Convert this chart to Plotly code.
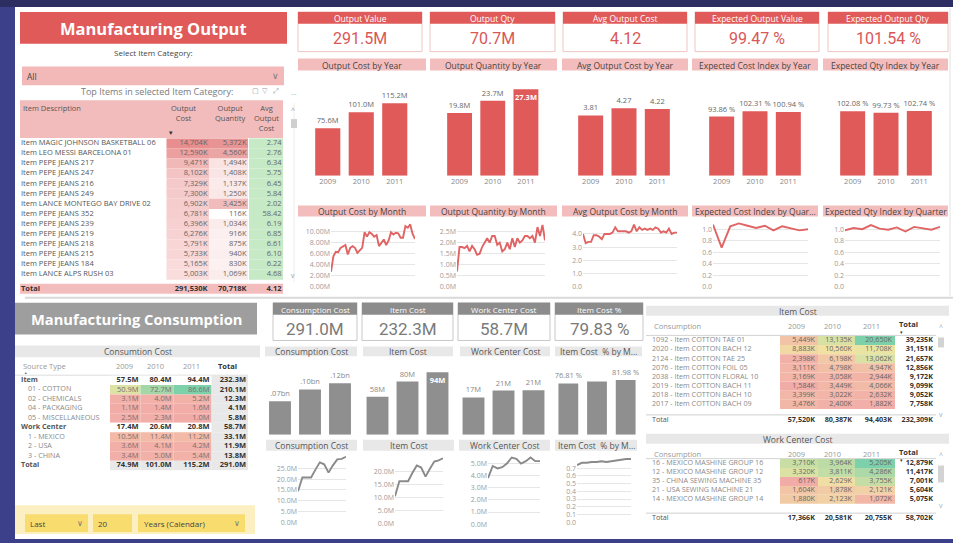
import plotly.graph_objects as go

# ---------------- data ----------------
years = ["2009", "2010", "2011"]
month_names = ["Jan", "Feb", "Mar", "Apr", "May", "Jun", "Jul", "Aug", "Sep", "Oct", "Nov", "Dec"]
months = [f"{m} {y}" for y in years for m in month_names]
quarters = [f"Q{q} {y}" for y in years for q in range(1, 5)]

top_kpi_titles = ["Output Value", "Output Qty", "Avg Output Cost", "Expected Output Value", "Expected Output Qty"]
top_kpi_values = ["291.5M", "70.7M", "4.12", "99.47 %", "101.54 %"]
year_chart_titles = ["Output Cost by Year", "Output Quantity by Year", "Avg Output Cost by Year",
                     "Expected Cost Index by Year", "Expected Qty Index by Year"]
trend_chart_titles = ["Output Cost by Month", "Output Quantity by Month", "Avg Output Cost by Month",
                      "Expected Cost Index by Quar...", "Expected Qty Index by Quarter"]

output_cost_year = [75.6, 101.0, 115.2]      # M
output_qty_year = [19.8, 23.7, 27.3]         # M
avg_cost_year = [3.81, 4.27, 4.22]
cost_index_year = [93.86, 102.31, 100.94]    # %
qty_index_year = [102.08, 99.73, 102.74]     # %

output_cost_month = [2.7, 5.5, 6.3, 6.2, 7.0, 7.2, 7.5, 5.8, 7.0, 7.3, 7.0, 6.1,
                     6.5, 7.0, 9.8, 9.0, 9.8, 9.5, 9.0, 9.3, 7.3, 7.8, 8.5, 7.5,
                     8.3, 9.8, 9.4, 9.7, 9.6, 8.8, 8.8, 10.9, 10.6, 11.2, 9.5, 8.6]
output_qty_month = [0.7, 1.8, 1.8, 1.75, 1.85, 1.6, 1.85, 1.7, 1.45, 1.5, 1.8, 2.0,
                    2.2, 2.0, 2.3, 2.3, 1.9, 2.0, 1.6, 1.7, 2.0, 1.7, 2.2, 1.8,
                    2.2, 2.0, 2.1, 2.3, 2.3, 2.2, 2.3, 2.0, 2.7, 2.3, 2.8, 2.1]
avg_cost_month = [4.0, 3.3, 3.4, 3.4, 3.9, 3.9, 3.8, 3.6, 4.0, 4.0, 4.0, 4.1,
                  4.5, 4.2, 4.2, 4.2, 4.2, 4.1, 4.2, 4.7, 4.2, 4.5, 4.3, 4.4,
                  4.3, 4.4, 4.3, 4.5, 4.4, 4.1, 4.2, 4.1, 4.4, 4.0, 4.1, 4.1]
cost_index_quarter = [1.08, 0.68, 1.05, 1.10, 1.06, 1.02, 1.06, 0.98, 1.05, 1.02, 0.98, 1.00]
qty_index_quarter = [0.98, 1.02, 1.00, 1.07, 1.01, 0.99, 1.03, 0.96, 1.04, 1.02, 0.99, 1.04]

item_names = ["Item MAGIC JOHNSON BASKETBALL 06", "Item LEO MESSI BARCELONA 01", "Item PEPE JEANS 217",
              "Item PEPE JEANS 247", "Item PEPE JEANS 216", "Item PEPE JEANS 249",
              "Item LANCE MONTEGO BAY DRIVE 02", "Item PEPE JEANS 352", "Item PEPE JEANS 239",
              "Item PEPE JEANS 219", "Item PEPE JEANS 218", "Item PEPE JEANS 215",
              "Item PEPE JEANS 184", "Item LANCE ALPS RUSH 03"]
item_output_cost = [14704, 12590, 9471, 8102, 7329, 7300, 6902, 6781, 6396, 6276, 5791, 5733, 5165, 5003]
item_output_qty = [5372, 4560, 1494, 1408, 1137, 1250, 3425, 116, 1034, 916, 875, 940, 830, 1069]
item_avg_cost = [2.74, 2.76, 6.34, 5.75, 6.45, 5.84, 2.02, 58.42, 6.19, 6.85, 6.61, 6.10, 6.22, 4.68]
item_totals = [291530, 70718, 4.12]

cons_kpi_titles = ["Consumption Cost", "Item Cost", "Work Center Cost", "Item Cost %"]
cons_kpi_values = ["291.0M", "232.3M", "58.7M", "79.83 %"]
cons_chart_titles = ["Consumption Cost", "Item Cost", "Work Center Cost", "Item Cost  % by M..."]
consumption_year = [74.9, 101.0, 115.2]
item_cost_year = [57.5, 80.4, 94.4]
work_center_year = [17.4, 20.6, 20.8]
item_cost_pct_year = [76.81, 79.60, 81.98]
consumption_labels = [".07bn", ".10bn", ".12bn"]
item_cost_labels = ["58M", "80M", "94M"]
work_center_labels = ["17M", "21M", "21M"]
item_cost_pct_labels = ["76.81 %", "", "81.98 %"]

consumption_quarter = [14.4, 20.8, 20.8, 20.8, 24.5, 27.9, 27.0, 23.1, 26.5, 29.3, 29.5, 30.5]
item_cost_quarter = [10.4, 16.2, 16.2, 16.2, 19.5, 22.3, 21.5, 18.0, 21.0, 23.8, 24.3, 25.1]
work_center_quarter = [3.8, 4.8, 4.6, 4.7, 5.0, 5.5, 5.4, 5.0, 5.2, 5.5, 5.2, 5.2]
item_cost_pct_quarter = [0.74, 0.77, 0.77, 0.78, 0.78, 0.79, 0.78, 0.79, 0.80, 0.81, 0.82, 0.82]

source_types = ["Item", "01 - COTTON", "02 - CHEMICALS", "04 - PACKAGING", "05 - MISCELLANEOUS",
                "Work Center", "1 - MEXICO", "2 - USA", "3 - CHINA"]
source_level = [0, 1, 1, 1, 1, 0, 1, 1, 1]
source_2009 = [57.5, 50.9, 3.1, 1.1, 2.5, 17.4, 10.5, 3.6, 3.4]
source_2010 = [80.4, 72.7, 4.0, 1.4, 2.3, 20.6, 11.4, 4.1, 5.0]
source_2011 = [94.4, 86.6, 5.2, 1.6, 1.0, 20.8, 11.2, 4.2, 5.4]
source_total = [232.3, 210.1, 12.3, 4.1, 5.8, 58.7, 33.1, 11.9, 13.8]
source_grand = [74.9, 101.0, 115.2, 291.0]

item_cost_rows = ["1092 - Item COTTON TAE 01", "2020 - Item COTTON BACH 12", "2124 - Item COTTON TAE 25",
                  "2076 - Item COTTON FOIL 05", "2038 - Item COTTON FLORAL 10", "2019 - Item COTTON BACH 11",
                  "2018 - Item COTTON BACH 10", "2017 - Item COTTON BACH 09"]
item_cost_2009 = [5449, 8883, 2398, 3111, 3169, 1584, 3399, 3476]
item_cost_2010 = [13135, 10560, 6198, 4798, 3058, 3449, 3022, 2400]
item_cost_2011 = [20650, 11708, 13062, 4947, 2944, 4066, 2632, 1882]
item_cost_total = [39235, 31151, 21657, 12856, 9172, 9099, 9052, 7758]
item_cost_grand = [57520, 80387, 94403, 232309]

wc_rows = ["16 - MEXICO MASHINE GROUP 16", "12 - MEXICO MASHINE GROUP 12", "35 - CHINA SEWING MACHINE 35",
           "21 - USA SEWING MACHINE 21", "14 - MEXICO MASHINE GROUP 14"]
wc_2009 = [3710, 3320, 617, 1604, 1880]
wc_2010 = [3964, 3811, 2629, 1878, 2123]
wc_2011 = [5205, 4286, 3755, 2121, 1072]
wc_total = [12879, 11417, 7001, 5604, 5075]
wc_grand = [17366, 20581, 20755, 58702]

# ---------------- styling ----------------
W, H = 953, 543
FONT = "Open Sans, Noto Sans, sans-serif"
NUM_FONT = "Roboto, Open Sans, sans-serif"
RED = "#e05a5a"
RED_LINE = "#e06464"
PINK = "#f4bdbd"
GRAY = "#8f8f8f"
GRAY_BAND = "#e8e8e8"
DIV_LOW, DIV_MID, DIV_HIGH = "#f2aca8", "#f1e5a3", "#7dd1aa"

fig = go.Figure()
shapes, annotations = [], []
axis_no = [0]


def fx(x):
    return x / W


def fy(y):
    return 1 - y / H


def box(x0, y0, x1, y1, fill, border=None, width=1):
    shapes.append(dict(type="rect", xref="paper", yref="paper", layer="below",
                       x0=fx(x0), x1=fx(x1), y0=fy(y1), y1=fy(y0), fillcolor=fill,
                       line=dict(color=border or fill, width=width if border else 0)))


def seg(x0, y0, x1, y1, color, width=1):
    shapes.append(dict(type="line", xref="paper", yref="paper", layer="below",
                       x0=fx(x0), x1=fx(x1), y0=fy(y0), y1=fy(y1), line=dict(color=color, width=width)))


def label(x, y, s, size=8, color="#555", anchor="center", family=FONT, valign="middle"):
    annotations.append(dict(xref="paper", yref="paper", x=fx(x), y=fy(y), text=s, showarrow=False,
                            xanchor=anchor, yanchor=valign, borderpad=0,
                            font=dict(size=size, color=color, family=family)))


def new_axes(xdom, ydom, xkw, ykw):
    axis_no[0] += 1
    s = "" if axis_no[0] == 1 else str(axis_no[0])
    fig.update_layout({
        "xaxis" + s: dict(domain=[fx(xdom[0]), fx(xdom[1])], anchor="y" + s, fixedrange=True, **xkw),
        "yaxis" + s: dict(domain=[fy(ydom[1]), fy(ydom[0])], anchor="x" + s, fixedrange=True, **ykw),
    })
    return "x" + s, "y" + s


def hexmix(c1, c2, t):
    t = max(0.0, min(1.0, t))
    a = [int(c1[i:i + 2], 16) for i in (1, 3, 5)]
    b = [int(c2[i:i + 2], 16) for i in (1, 3, 5)]
    return "#" + "".join(f"{round(a[k] + (b[k] - a[k]) * t):02x}" for k in range(3))


def diverging(v, lo, hi):
    mid = (lo + hi) / 2
    if v <= mid:
        return hexmix(DIV_LOW, DIV_MID, (v - lo) / (mid - lo))
    return hexmix(DIV_MID, DIV_HIGH, (v - mid) / (hi - mid))


def band(x0, x1, y0, y1, title, fill, size=8.5, color="#444"):
    box(x0, y0, x1, y1, fill)
    label((x0 + x1) / 2, (y0 + y1) / 2 + 0.5, title, size, color)


def kpi(x0, x1, y0, yh, y1, title, value, head, border, vcolor, tsize, vsize):
    box(x0, y0, x1, y1, "white", border)
    box(x0, y0, x1, yh, head)
    label((x0 + x1) / 2, (y0 + yh) / 2 + 0.5, title, tsize, "white")
    label((x0 + x1) / 2, (yh + y1) / 2 + 1, value, vsize, vcolor, family=NUM_FONT)


def bar_chart(xdom, ydom, vals, ymax, color, labels, positions, label_colors, width, show_x):
    xa, ya = new_axes(xdom, ydom,
                      dict(type="category", showgrid=False, showline=False, ticks="",
                           showticklabels=show_x, tickfont=dict(size=7.5, color="#888", family=FONT)),
                      dict(range=[0, ymax], visible=False))
    fig.add_trace(go.Bar(x=years, y=vals, xaxis=xa, yaxis=ya, width=width,
                         marker=dict(color=color, line=dict(width=0)),
                         text=labels, textposition=positions, textangle=0, constraintext="none",
                         insidetextanchor="end", cliponaxis=False, hoverinfo="skip",
                         textfont=dict(size=7.5, color=label_colors, family=FONT)))


def line_chart(xdom, ydom, cats, vals, ymax, dtick, top_tick, fmt, suffix, color):
    ticks = [round(i * dtick, 4) for i in range(int(round(top_tick / dtick)) + 1)]
    xa, ya = new_axes(xdom, ydom,
                      dict(type="category", visible=False, range=[0, len(cats) - 1]),
                      dict(range=[0, ymax], tickmode="array", tickvals=ticks,
                           ticktext=[format(t, fmt) + suffix for t in ticks],
                           showgrid=True, gridcolor="#e6e6e6", gridwidth=1,
                           zeroline=False, showline=False, ticks="",
                           tickfont=dict(size=7, color="#9a9a9a", family=FONT)))
    fig.add_trace(go.Scatter(x=cats, y=vals, mode="lines", line=dict(color=color, width=1.9),
                             xaxis=xa, yaxis=ya, hoverinfo="skip", cliponaxis=False))


def cells(ax, ys, x0, x1, colors):
    fig.add_trace(go.Bar(orientation="h", y=ys, x=[x1 - x0] * len(ys), base=x0, width=1.0,
                         marker=dict(color=colors, line=dict(width=0)),
                         xaxis=ax[0], yaxis=ax[1], hoverinfo="skip"))


def cell_text(ax, ys, x, texts, pos, size, colors):
    fig.add_trace(go.Scatter(x=[x] * len(ys), y=ys, mode="text", text=texts, textposition=pos,
                             textfont=dict(size=size, color=colors, family=FONT),
                             xaxis=ax[0], yaxis=ax[1], hoverinfo="skip", cliponaxis=False))


def table_axes(xdom, top, bottom, row0, step):
    yr = [(bottom - row0) / step, (top - row0) / step]
    return new_axes(xdom, (top, bottom), dict(range=list(xdom), visible=False),
                    dict(range=yr, visible=False))


# ---------------- canvas ----------------
box(0, 0, W, 7, "#2c2e62")
box(15, 7, W, H, "white")
seg(25, 300, W, 300, "#d9d9d9", 2)
seg(950, 8, 950, 298, "#e2e2e2", 1)

# ---------------- top-left: output title, slicer, item table ----------------
box(20, 12, 287, 44, RED)
label(153.5, 28.5, "<b>Manufacturing Output</b>", 16.5, "white")
label(153, 53, "Select Item Category:", 8, "#444")
box(22, 67, 284, 86, "#f3b8b8")
label(26, 77, "All", 8.5, "#444", anchor="left")
label(275, 76, "∨", 9, "#777")
label(157, 92, "Top Items in selected Item Category:", 9, "#7a7a7a")
label(255, 91, "▢", 7, "#999")
label(265, 91, "▽", 7, "#999")
label(276, 91, "⤢", 7, "#999")
label(294, 95, "···", 7, "#999")

box(20, 101, 283, 139, "#f3bcbc")
label(22, 103, "Item Description", 7.5, "#555", anchor="left", valign="top")
label(170, 103, "Output<br>Cost", 7.5, "#555", anchor="left", valign="top")
label(214, 103, "Output<br>Quantity", 7.5, "#555", anchor="left", valign="top")
label(253, 103, "Avg<br>Output<br>Cost", 7.5, "#555", anchor="left", valign="top")
label(171, 133, "▾", 7, "#333")

# scrollbar of the item table
seg(294, 104, 294, 284, "#ececec", 1)
box(291, 120, 297, 129, "#cfcfcf")
label(293, 111, "^", 7, "#999")
label(293, 278, "v", 7, "#999")

n1 = len(item_names)
rows1 = list(range(n1))
total_y1 = n1 + 0.4
t1 = table_axes((20, 290), 139.2, 297, 144.3, 10.18)
cells(t1, [total_y1], 20, 283, [PINK])
c_lo, c_hi = min(item_output_cost), max(item_output_cost)
q_lo, q_hi = min(item_output_qty), max(item_output_qty)
cells(t1, rows1, 166.5, 209, [hexmix("#f9dcdc", "#e88e8e", (v - c_lo) / (c_hi - c_lo)) for v in item_output_cost])
cells(t1, rows1, 209, 248, [hexmix("#ffffff", "#e89494", (v - q_lo) / (q_hi - q_lo)) for v in item_output_qty])
cells(t1, rows1, 249, 283, ["#c6e9c6"] * n1)
ys1 = rows1 + [total_y1]
cell_text(t1, ys1, 21, item_names + ["<b>Total</b>"], "middle right", 7.5, ["#555"] * n1 + ["#333"])
cell_text(t1, ys1, 207.5, [f"{v:,}K" for v in item_output_cost] + [f"<b>{item_totals[0]:,}K</b>"],
          "middle left", 7.5, ["#666"] * n1 + ["#333"])
cell_text(t1, ys1, 246.5, [f"{v:,}K" for v in item_output_qty] + [f"<b>{item_totals[1]:,}K</b>"],
          "middle left", 7.5, ["#666"] * n1 + ["#333"])
cell_text(t1, ys1, 281.5, [f"{v:.2f}" for v in item_avg_cost] + [f"<b>{item_totals[2]:.2f}</b>"],
          "middle left", 7.5, ["#666"] * n1 + ["#333"])

# ---------------- top: KPI cards, yearly bars, trends ----------------
kpi_x = [(298, 422), (430, 555), (563, 687), (695, 819), (828, 948)]
col_x = [(298, 426), (430, 557), (562, 688), (692, 818), (823, 948)]
bar_dom = [(311, 411.5), (443, 542.5), (574, 674), (705, 805), (836, 936)]
line_dom = [(331, 415), (457, 545), (583, 677), (713, 808), (845, 940)]

for (x0, x1), t, v in zip(kpi_x, top_kpi_titles, top_kpi_values):
    kpi(x0, x1, 12, 24, 52, t, v, RED, "#f0c4c4", "#d95757", 8.5, 16)
for (x0, x1), t in zip(col_x, year_chart_titles):
    band(x0, x1, 59, 71, t, PINK)
for (x0, x1), t in zip(col_x, trend_chart_titles):
    band(x0, x1, 207, 218, t, PINK)

grey_lbl = ["#666", "#666", "#666"]
bar_chart(bar_dom[0], (83, 177), output_cost_year, 148.3, RED,
          [f"{v:.1f}M" for v in output_cost_year], "outside", grey_lbl, 0.75, True)
bar_chart(bar_dom[1], (83, 177), output_qty_year, 29.5, RED,
          [f"{v:.1f}M" for v in output_qty_year[:2]] + [f"<b>{output_qty_year[2]:.1f}M</b>"],
          ["outside", "outside", "inside"], ["#666", "#666", "white"], 0.75, True)
bar_chart(bar_dom[2], (83, 177), avg_cost_year, 5.9, RED,
          [f"{v:.2f}" for v in avg_cost_year], "outside", grey_lbl, 0.75, True)
bar_chart(bar_dom[3], (83, 177), cost_index_year, 148, RED,
          [f"{v:.2f} %" for v in cost_index_year], "outside", grey_lbl, 0.75, True)
bar_chart(bar_dom[4], (83, 177), qty_index_year, 148, RED,
          [f"{v:.2f} %" for v in qty_index_year], "outside", grey_lbl, 0.75, True)

line_chart(line_dom[0], (221, 289), months, output_cost_month, 12.1, 2, 10, ".2f", "M", RED_LINE)
line_chart(line_dom[1], (221, 289), months, output_qty_month, 3.05, 0.5, 2.5, ".1f", "M", RED_LINE)
line_chart(line_dom[2], (221, 289), months, avg_cost_month, 5.1, 1, 4, ".1f", "", RED_LINE)
line_chart(line_dom[3], (221, 289), quarters, cost_index_quarter, 1.17, 0.2, 1.0, ".1f", "", RED_LINE)
line_chart(line_dom[4], (221, 289), quarters, qty_index_quarter, 1.17, 0.2, 1.0, ".1f", "", RED_LINE)

# ---------------- bottom-left: consumption title, source matrix, filter ----------------
box(15, 305, 257, 337, "#9e9e9e")
label(136, 321.5, "<b>Manufacturing Consumption</b>", 14.7, "white")
band(15, 260, 348, 360, "Consumtion Cost", GRAY_BAND, 8.5, "#555")
label(22, 368.5, "Source Type", 7.5, "#999", anchor="left")
label(23, 375.5, "▲", 3.5, "#666", anchor="left")
for x, t in zip([115, 146, 182], years):
    label(x, 368.5, t, 7.5, "#999", anchor="left")
label(217, 368.5, "<b>Total</b>", 7.5, "#333", anchor="left")
seg(15, 378, 248, 378, "#dddddd", 1)

n2 = len(source_types)
rows2 = list(range(n2))
ys2 = rows2 + [n2]
t2 = table_axes((15, 260), 378.2, 474, 383, 9.55)
leaf_vals = [v for col in (source_2009, source_2010, source_2011)
             for v, lv in zip(col, source_level) if lv == 1]
s_lo, s_hi = min(leaf_vals), max(leaf_vals)
year_cols = [source_2009, source_2010, source_2011]
col_edges = [(110, 140.5), (140.5, 173.5), (173.5, 211.5)]
for k, (col, (x0, x1)) in enumerate(zip(year_cols, col_edges)):
    colors = ["#ffffff" if lv == 0 else diverging(v, s_lo, s_hi) for v, lv in zip(col, source_level)]
    cells(t2, ys2, x0, x1, colors + [GRAY_BAND])
    texts = [f"<b>{v:.1f}M</b>" if lv == 0 else f"{v:.1f}M" for v, lv in zip(col, source_level)]
    cell_text(t2, ys2, x1 - 2, texts + [f"<b>{source_grand[k]:.1f}M</b>"], "middle left", 7.5,
              ["#333" if lv == 0 else "#7a6f6f" for lv in source_level] + ["#333"])
cells(t2, ys2, 211.5, 248, [GRAY_BAND] * (n2 + 1))
cell_text(t2, ys2, 246, [f"<b>{v:.1f}M</b>" for v in source_total + [source_grand[3]]],
          "middle left", 7.5, ["#333"] * (n2 + 1))
# group rows flush left, child rows indented
top_rows = [r for r in rows2 if source_level[r] == 0] + [n2]
child_rows = [r for r in rows2 if source_level[r] == 1]
cell_text(t2, top_rows, 21, [f"<b>{source_types[r]}</b>" for r in top_rows[:-1]] + ["<b>Total</b>"],
          "middle right", 7.2, ["#555"] * len(top_rows))
cell_text(t2, child_rows, 28, [source_types[r] for r in child_rows], "middle right", 7.2,
          ["#8a8a8a"] * len(child_rows))

box(15, 509, 255, 538, "#fcf0c2")
box(25, 518, 88, 536, "#f9dc6e")
box(93, 518, 132, 536, "#f9dc6e")
box(138, 518, 245, 536, "#f9dc6e")
label(29, 527, "Last", 8, "#444", anchor="left")
label(97, 527, "20", 8, "#444", anchor="left")
label(143, 527, "Years (Calendar)", 8, "#444", anchor="left")
label(80, 526, "∨", 8, "#777")
label(237, 526, "∨", 8, "#777")

# ---------------- bottom-middle: consumption KPIs, bars, trends ----------------
bkpi_x = [(273, 357), (362, 453), (458, 550), (555, 643)]
bband_bar = [(265, 357), (363, 453), (460, 550), (555, 642)]
bband_line = [(266, 357), (363, 454), (459, 550), (555, 637)]
bbar_dom = [(265, 355), (362.5, 452.5), (458.5, 548.5), (554, 640)]
bline_dom = [(298, 346), (395, 443), (488, 540), (577, 631)]

for (x0, x1), t, v in zip(bkpi_x, cons_kpi_titles, cons_kpi_values):
    kpi(x0, x1, 305, 317, 343, t, v, "#8c8c8c", "#c9c9c9", "#7a7a7a", 8, 17)
for (x0, x1), t in zip(bband_bar, cons_chart_titles):
    band(x0, x1, 349, 359, t, GRAY_BAND, 8.5, "#555")
for (x0, x1), t in zip(bband_line, cons_chart_titles):
    band(x0, x1, 443, 454, t, GRAY_BAND, 8.5, "#555")

lbl3 = ["#888", "#888", "#888"]
bar_chart(bbar_dom[0], (368, 438), consumption_year, 155, GRAY, consumption_labels,
          "outside", lbl3, 0.73, False)
bar_chart(bbar_dom[1], (368, 438), item_cost_year, 105, GRAY,
          item_cost_labels[:2] + [f"<b>{item_cost_labels[2]}</b>"],
          ["outside", "outside", "inside"], ["#888", "#888", "white"], 0.73, False)
bar_chart(bbar_dom[2], (368, 438), work_center_year, 32.4, GRAY, work_center_labels,
          "outside", lbl3, 0.73, False)
bar_chart(bbar_dom[3], (368, 438), item_cost_pct_year, 104, GRAY, item_cost_pct_labels,
          "outside", lbl3, 0.69, False)

line_chart(bline_dom[0], (458, 526), quarters, consumption_quarter, 31.5, 5, 25, ".1f", "M", "#8a8a8a")
line_chart(bline_dom[1], (458, 527), quarters, item_cost_quarter, 26.5, 5, 20, ".1f", "M", "#8a8a8a")
line_chart(bline_dom[2], (458, 528), quarters, work_center_quarter, 5.74, 1, 5, ".1f", "M", "#8a8a8a")
line_chart(bline_dom[3], (458, 526), quarters, item_cost_pct_quarter, 0.876, 0.1, 0.7, ".1f", "", "#8a8a8a")

# ---------------- bottom-right: item cost and work center matrices ----------------
mcols = [(780, 818), (818, 855), (855, 895)]
mhead = [787, 823, 862]


def matrix(title, ty0, head_y, row0, step, total_gap, names, cols, totals, grand, thumb):
    band(646, 949, ty0, ty0 + 10, title, GRAY_BAND, 8.5, "#555")
    label(653, head_y, "Consumption", 7.5, "#999", anchor="left")
    for x, t in zip(mhead, years):
        label(x, head_y, t, 7.5, "#999", anchor="left")
    label(898, head_y - 1.5, "<b>Total</b>", 7.5, "#333", anchor="left")
    label(901, head_y + 6.5, "▾", 4.5, "#333")
    line_y = row0 - step / 2 - 0.5
    seg(646, line_y, 936, line_y, "#d4d4d4", 1)
    n = len(names)
    rows = list(range(n))
    tot_y = n - 1 + total_gap
    seg(646, row0 + step * (tot_y - 0.55), 936, row0 + step * (tot_y - 0.55), "#d0d0d0", 1)
    ax = table_axes((646, 945), line_y + 0.5, row0 + step * (tot_y + 0.6), row0, step)
    lo = min(min(c) for c in cols)
    hi = max(max(c) for c in cols)
    ys = rows + [tot_y]
    for k, (col, (x0, x1)) in enumerate(zip(cols, mcols)):
        cells(ax, rows, x0, x1, [diverging(v, lo, hi) for v in col])
        cell_text(ax, ys, x1 - 3, [f"{v:,}K" for v in col] + [f"<b>{grand[k]:,}K</b>"],
                  "middle left", 7.2, ["#666"] * n + ["#333"])
    cell_text(ax, ys, 933, [f"<b>{v:,}K</b>" for v in totals + [grand[3]]],
              "middle left", 7.2, ["#333"] * (n + 1))
    cell_text(ax, ys, 652, names + ["Total"], "middle right", 7.2, ["#8a8a8a"] * n + ["#555"])
    label(941, head_y + 2, "^", 7, "#aaa")
    label(941, thumb[2], "v", 7, "#aaa")
    box(938, thumb[0], 944, thumb[1], "#d3d3d3")


matrix("Item Cost", 308, 328, 343, 9.2, 1.7, item_cost_rows,
       [item_cost_2009, item_cost_2010, item_cost_2011], item_cost_total, item_cost_grand, (340, 350, 418))
matrix("Work Center Cost", 437, 457, 467, 9.0, 2.1, wc_rows,
       [wc_2009, wc_2010, wc_2011], wc_total, wc_grand, (469, 486, 509))

fig.update_layout(
    width=W, height=H, autosize=False,
    margin=dict(l=0, r=0, t=0, b=0),
    paper_bgcolor="#3c3f8a", plot_bgcolor="rgba(0,0,0,0)",
    showlegend=False, barmode="overlay", hovermode=False,
    font=dict(family=FONT),
    shapes=shapes, annotations=annotations,
)
# the page's default body margin would shift the figure by 8px
fig.write_html("out.html", config={"displayModeBar": False},
               post_script="document.body.style.margin='0';document.body.style.overflow='hidden';")
